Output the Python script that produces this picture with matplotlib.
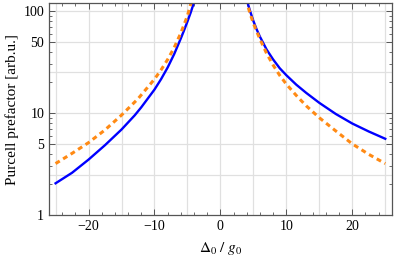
import matplotlib.pyplot as plt
from matplotlib.ticker import FixedLocator, NullFormatter

# Values
blue_left_x = [-25, -22.5, -20, -17.5, -15, -13, -12, -10, -9, -8, -7, -6, -5.5, -5, -4.5, -4.05, -3.9]
blue_left_y = [2.05, 2.6, 3.5, 4.85, 6.9, 9.5, 11.4, 17, 21.5, 28, 38, 54, 65, 79, 97, 119, 132]
blue_right_x = [4.0, 4.15, 4.5, 5, 5.5, 6, 7, 8, 9, 10, 11.5, 13, 15, 17.5, 20, 22.5, 25]
blue_right_y = [135, 119, 100, 80, 66, 56, 42, 33.5, 27.5, 23.5, 19, 15.8, 12.6, 9.8, 7.9, 6.6, 5.6]

orange_left_x = [-25, -22.5, -20, -17.5, -15, -12.5, -10, -9, -8, -7, -6, -5.5, -5, -4.55, -4.4]
orange_left_y = [3.2, 4.03, 5.13, 6.84, 9.55, 13.8, 21.5, 26.5, 33.5, 44, 61, 74, 90, 114, 126]
orange_right_x = [3.9, 4.0, 4.2, 4.5, 5, 5.5, 6, 7, 8, 9, 10, 11.5, 13, 15, 17.5, 20, 22.5, 25]
orange_right_y = [140, 125, 110, 94.4, 75.9, 63.1, 53.1, 38.5, 29.5, 23.4, 19.2, 14.9, 11.8, 9.0, 6.68, 4.99, 3.94, 3.2]

x_ticks = [-20, -10, 0, 10, 20]
y_ticks = [1, 5, 10, 50, 100]
x_grid = [-25, -20, -15, -10, -5, 0, 5, 10, 15, 20, 25]
y_grid = [2.5, 5, 10, 25, 50, 100]

plt.rcParams['font.family'] = ['Liberation Serif', 'DejaVu Serif']
plt.rcParams['mathtext.fontset'] = 'stix'

fig = plt.figure(figsize=(3.95, 2.57), dpi=100)
ax = fig.add_axes([0.124, 0.163, 0.868, 0.824])

for g in x_grid:
    ax.axvline(g, color='#e0e0e0', lw=0.9, zorder=0)
for g in y_grid:
    ax.axhline(g, color='#e0e0e0', lw=0.9, zorder=0)

blue = '#0000ff'
orange = '#ff8a14'
ax.plot(blue_left_x, blue_left_y, color=blue, lw=1.7)
ax.plot(blue_right_x, blue_right_y, color=blue, lw=1.7)
ax.plot(orange_left_x, orange_left_y, color=orange, lw=2.2, dashes=(1.6, 1.3))
ax.plot(orange_right_x, orange_right_y, color=orange, lw=2.2, dashes=(1.6, 1.3))

ax.set_yscale('log')
ax.set_xlim(-26, 26)
ax.set_ylim(1, 119)

ax.xaxis.set_major_locator(FixedLocator(x_ticks))
ax.xaxis.set_minor_locator(FixedLocator([v for v in range(-26, 27, 2) if v % 10 != 0]))
ax.set_xticklabels(['\u221220', '\u221210', '0', '10', '20'])
ax.yaxis.set_major_locator(FixedLocator(y_ticks))
ax.set_yticklabels([str(v) for v in y_ticks])
minor_y = [m * d for d in (1, 10, 100) for m in range(2, 10) if m * d not in y_ticks and m * d < 119]
ax.yaxis.set_minor_locator(FixedLocator(minor_y))
ax.yaxis.set_minor_formatter(NullFormatter())

ax.tick_params(which='both', direction='in', top=True, right=True, color='#555555',
               labelsize=10, pad=3.5)
ax.tick_params(which='major', length=4, width=0.7)
ax.tick_params(which='minor', length=2, width=0.6)
for s in ax.spines.values():
    s.set_color('#555555')
    s.set_linewidth(0.9)

ax.set_xlabel(r'$\Delta_0\ /\ g_0$', fontsize=11, labelpad=5)
ax.set_ylabel('Purcell prefactor [arb.u.]', fontsize=11, labelpad=3)

fig.savefig('out.png', dpi=100)
plt.close(fig)
